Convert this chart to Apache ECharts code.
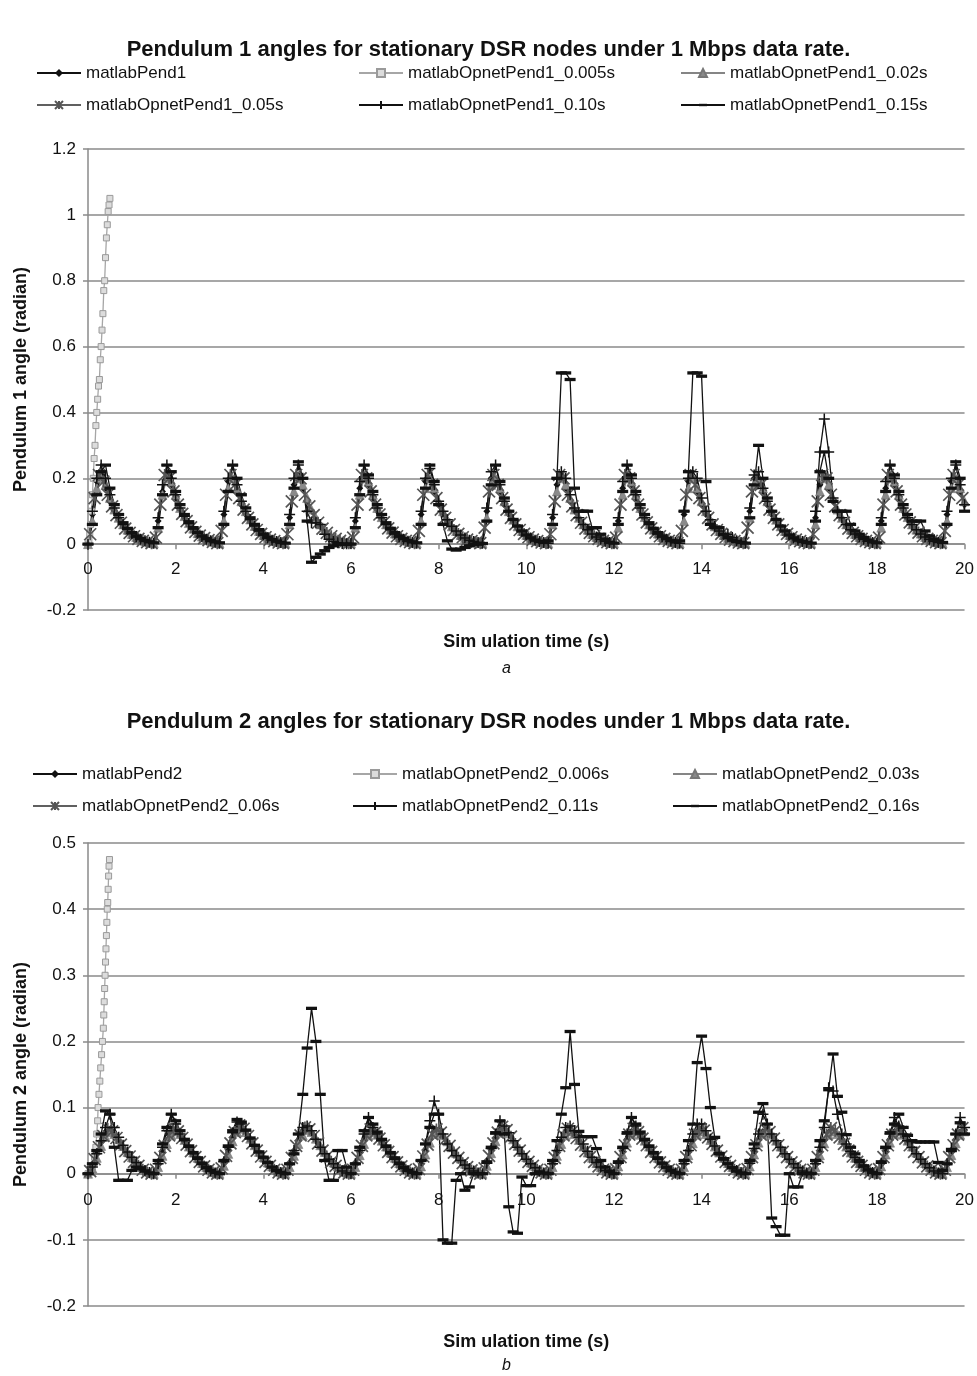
<!DOCTYPE html>
<html>
<head>
<meta charset="utf-8">
<script src="https://cdn.jsdelivr.net/npm/echarts@6/dist/echarts.min.js"></script>
<style>
html,body{margin:0;padding:0;background:#fff;}
#chart{width:977px;height:1376px;}
</style>
</head>
<body>
<div id="chart"></div>
<script>
// ---------- shared tick labels / axes ----------
const X_TICKS = [0, 2, 4, 6, 8, 10, 12, 14, 16, 18, 20];
const Y_TICKS_A = [-0.2, 0, 0.2, 0.4, 0.6, 0.8, 1, 1.2];
const Y_TICKS_B = [-0.2, -0.1, 0, 0.1, 0.2, 0.3, 0.4, 0.5];

const TITLE_A = 'Pendulum 1 angles for stationary DSR nodes under 1 Mbps data rate.';
const TITLE_B = 'Pendulum 2 angles for stationary DSR nodes under 1 Mbps data rate.';
const NAMES_A = ['matlabPend1', 'matlabOpnetPend1_0.005s', 'matlabOpnetPend1_0.02s', 'matlabOpnetPend1_0.05s', 'matlabOpnetPend1_0.10s', 'matlabOpnetPend1_0.15s'];
const NAMES_B = ['matlabPend2', 'matlabOpnetPend2_0.006s', 'matlabOpnetPend2_0.03s', 'matlabOpnetPend2_0.06s', 'matlabOpnetPend2_0.11s', 'matlabOpnetPend2_0.16s'];

// ---------- sample times (s) ----------
const T10 = [
0,0.1,0.2,0.3,0.4,0.5,0.6,0.7,0.8,0.9,
1,1.1,1.2,1.3,1.4,1.5,1.6,1.7,1.8,1.9,
2,2.1,2.2,2.3,2.4,2.5,2.6,2.7,2.8,2.9,
3,3.1,3.2,3.3,3.4,3.5,3.6,3.7,3.8,3.9,
4,4.1,4.2,4.3,4.4,4.5,4.6,4.7,4.8,4.9,
5,5.1,5.2,5.3,5.4,5.5,5.6,5.7,5.8,5.9,
6,6.1,6.2,6.3,6.4,6.5,6.6,6.7,6.8,6.9,
7,7.1,7.2,7.3,7.4,7.5,7.6,7.7,7.8,7.9,
8,8.1,8.2,8.3,8.4,8.5,8.6,8.7,8.8,8.9,
9,9.1,9.2,9.3,9.4,9.5,9.6,9.7,9.8,9.9,
10,10.1,10.2,10.3,10.4,10.5,10.6,10.7,10.8,10.9,
11,11.1,11.2,11.3,11.4,11.5,11.6,11.7,11.8,11.9,
12,12.1,12.2,12.3,12.4,12.5,12.6,12.7,12.8,12.9,
13,13.1,13.2,13.3,13.4,13.5,13.6,13.7,13.8,13.9,
14,14.1,14.2,14.3,14.4,14.5,14.6,14.7,14.8,14.9,
15,15.1,15.2,15.3,15.4,15.5,15.6,15.7,15.8,15.9,
16,16.1,16.2,16.3,16.4,16.5,16.6,16.7,16.8,16.9,
17,17.1,17.2,17.3,17.4,17.5,17.6,17.7,17.8,17.9,
18,18.1,18.2,18.3,18.4,18.5,18.6,18.7,18.8,18.9,
19,19.1,19.2,19.3,19.4,19.5,19.6,19.7,19.8,19.9,
20];
const TH = [
0.05,0.15,0.25,0.35,0.45,0.55,0.65,0.75,0.85,0.95,
1.05,1.15,1.25,1.35,1.45,1.55,1.65,1.75,1.85,1.95,
2.05,2.15,2.25,2.35,2.45,2.55,2.65,2.75,2.85,2.95,
3.05,3.15,3.25,3.35,3.45,3.55,3.65,3.75,3.85,3.95,
4.05,4.15,4.25,4.35,4.45,4.55,4.65,4.75,4.85,4.95,
5.05,5.15,5.25,5.35,5.45,5.55,5.65,5.75,5.85,5.95,
6.05,6.15,6.25,6.35,6.45,6.55,6.65,6.75,6.85,6.95,
7.05,7.15,7.25,7.35,7.45,7.55,7.65,7.75,7.85,7.95,
8.05,8.15,8.25,8.35,8.45,8.55,8.65,8.75,8.85,8.95,
9.05,9.15,9.25,9.35,9.45,9.55,9.65,9.75,9.85,9.95,
10.05,10.15,10.25,10.35,10.45,10.55,10.65,10.75,10.85,10.95,
11.05,11.15,11.25,11.35,11.45,11.55,11.65,11.75,11.85,11.95,
12.05,12.15,12.25,12.35,12.45,12.55,12.65,12.75,12.85,12.95,
13.05,13.15,13.25,13.35,13.45,13.55,13.65,13.75,13.85,13.95,
14.05,14.15,14.25,14.35,14.45,14.55,14.65,14.75,14.85,14.95,
15.05,15.15,15.25,15.35,15.45,15.55,15.65,15.75,15.85,15.95,
16.05,16.15,16.25,16.35,16.45,16.55,16.65,16.75,16.85,16.95,
17.05,17.15,17.25,17.35,17.45,17.55,17.65,17.75,17.85,17.95,
18.05,18.15,18.25,18.35,18.45,18.55,18.65,18.75,18.85,18.95,
19.05,19.15,19.25,19.35,19.45,19.55,19.65,19.75,19.85,19.95];

// ---------- Pendulum 1 (chart a) ----------
const A_PEND1 = [
0,0.09,0.19,0.21,0.17,0.13,0.1,0.075,0.055,0.04,
0.028,0.02,0.013,0.008,0.004,0.002,0.07,0.16,0.21,0.18,
0.14,0.105,0.08,0.06,0.043,0.03,0.021,0.014,0.009,0.005,
0.002,0.09,0.19,0.2,0.16,0.12,0.09,0.07,0.05,0.036,
0.025,0.017,0.011,0.007,0.004,0.002,0.08,0.18,0.21,0.17,
0.13,0.1,0.075,0.055,0.04,0.028,0.02,0.013,0.008,0.004,
0.002,0.07,0.17,0.21,0.18,0.14,0.1,0.076,0.056,0.04,
0.029,0.02,0.013,0.008,0.004,0.002,0.09,0.19,0.2,0.16,
0.12,0.09,0.068,0.05,0.036,0.025,0.017,0.011,0.007,0.004,
0.003,0.1,0.2,0.2,0.16,0.12,0.09,0.068,0.05,0.036,
0.025,0.017,0.011,0.007,0.004,0.002,0.08,0.18,0.21,0.17,
0.13,0.1,0.075,0.055,0.04,0.028,0.02,0.013,0.008,0.004,
0.002,0.07,0.17,0.21,0.18,0.14,0.1,0.076,0.056,0.04,
0.029,0.02,0.013,0.008,0.004,0.002,0.09,0.19,0.2,0.16,
0.12,0.09,0.068,0.05,0.036,0.025,0.017,0.011,0.007,0.004,
0.003,0.1,0.2,0.2,0.16,0.12,0.09,0.068,0.05,0.036,
0.025,0.017,0.011,0.007,0.004,0.002,0.08,0.18,0.21,0.17,
0.13,0.1,0.075,0.055,0.04,0.028,0.02,0.013,0.008,0.004,
0.002,0.07,0.17,0.21,0.18,0.14,0.1,0.076,0.056,0.04,
0.029,0.02,0.013,0.008,0.004,0.002,0.09,0.19,0.2,0.16,
0.12];
const A_T005 = [0,0.02,0.04,0.06,0.08,0.1,0.12,0.14,0.16,0.18,0.2,0.22,0.24,0.26,0.28,0.3,0.32,0.34,0.36,0.38,0.4,0.42,0.44,0.46,0.48,0.5];
const A_P005 = [0,0.01,0.03,0.06,0.1,0.15,0.2,0.26,0.3,0.36,0.4,0.44,0.48,0.5,0.56,0.6,0.65,0.7,0.77,0.8,0.87,0.93,0.97,1.01,1.03,1.05];
const A_P002 = [
0,0.07,0.17,0.2,0.18,0.14,0.105,0.08,0.06,0.044,
0.031,0.022,0.015,0.009,0.005,0.003,0.05,0.15,0.2,0.19,
0.15,0.11,0.085,0.064,0.047,0.033,0.023,0.016,0.01,0.006,
0.003,0.07,0.17,0.2,0.17,0.13,0.1,0.075,0.055,0.04,
0.028,0.019,0.012,0.008,0.005,0.003,0.06,0.16,0.2,0.18,
0.14,0.105,0.08,0.06,0.044,0.031,0.022,0.015,0.009,0.005,
0.003,0.05,0.15,0.2,0.19,0.15,0.11,0.082,0.06,0.044,
0.032,0.022,0.015,0.009,0.005,0.003,0.07,0.17,0.2,0.17,
0.13,0.1,0.074,0.054,0.04,0.028,0.019,0.012,0.008,0.005,
0.003,0.08,0.18,0.2,0.17,0.13,0.1,0.074,0.054,0.04,
0.028,0.019,0.012,0.008,0.005,0.003,0.06,0.16,0.2,0.18,
0.14,0.105,0.08,0.06,0.044,0.031,0.022,0.015,0.009,0.005,
0.003,0.05,0.15,0.2,0.19,0.15,0.11,0.082,0.06,0.044,
0.032,0.022,0.015,0.009,0.005,0.003,0.07,0.17,0.2,0.17,
0.13,0.1,0.074,0.054,0.04,0.028,0.019,0.012,0.008,0.005,
0.003,0.08,0.18,0.2,0.17,0.13,0.1,0.074,0.054,0.04,
0.028,0.019,0.012,0.008,0.005,0.003,0.06,0.16,0.2,0.18,
0.14,0.105,0.08,0.06,0.044,0.031,0.022,0.015,0.009,0.005,
0.003,0.05,0.15,0.2,0.19,0.15,0.11,0.082,0.06,0.044,
0.032,0.022,0.015,0.009,0.005,0.003,0.07,0.17,0.2,0.17,
0.13];
const A_P005S = [
0.03,0.14,0.21,0.19,0.15,0.115,0.088,0.065,0.047,0.034,
0.024,0.016,0.01,0.006,0.003,0.02,0.12,0.21,0.2,0.16,
0.12,0.092,0.07,0.051,0.037,0.026,0.018,0.012,0.007,0.003,
0.04,0.15,0.21,0.18,0.14,0.105,0.08,0.06,0.043,0.031,
0.021,0.014,0.009,0.005,0.003,0.03,0.13,0.21,0.2,0.15,
0.115,0.088,0.065,0.047,0.034,0.024,0.016,0.01,0.006,0.003,
0.02,0.12,0.21,0.2,0.16,0.12,0.09,0.066,0.048,0.035,
0.024,0.016,0.01,0.006,0.003,0.04,0.15,0.21,0.18,0.14,
0.105,0.08,0.06,0.043,0.031,0.021,0.014,0.009,0.005,0.003,
0.05,0.16,0.21,0.18,0.14,0.105,0.08,0.06,0.043,0.031,
0.021,0.014,0.009,0.005,0.003,0.03,0.13,0.21,0.2,0.15,
0.115,0.088,0.065,0.047,0.034,0.024,0.016,0.01,0.006,0.003,
0.02,0.12,0.21,0.2,0.16,0.12,0.09,0.066,0.048,0.035,
0.024,0.016,0.01,0.006,0.003,0.04,0.15,0.21,0.18,0.14,
0.105,0.08,0.06,0.043,0.031,0.021,0.014,0.009,0.005,0.003,
0.05,0.16,0.21,0.18,0.14,0.105,0.08,0.06,0.043,0.031,
0.021,0.014,0.009,0.005,0.003,0.03,0.13,0.21,0.2,0.15,
0.115,0.088,0.065,0.047,0.034,0.024,0.016,0.01,0.006,0.003,
0.02,0.12,0.21,0.2,0.16,0.12,0.09,0.066,0.048,0.035,
0.024,0.016,0.01,0.006,0.003,0.04,0.15,0.21,0.18,0.14];
const A_P010 = [
0,0.1,0.2,0.24,0.2,0.15,0.11,0.08,0.06,0.045,
0.032,0.022,0.015,0.01,0.006,0.003,0.08,0.18,0.24,0.2,
0.15,0.11,0.085,0.063,0.046,0.033,0.023,0.015,0.01,0.006,
0.003,0.1,0.2,0.24,0.18,0.13,0.1,0.075,0.055,0.04,
0.028,0.019,0.012,0.008,0.005,0.003,0.09,0.2,0.24,0.2,
0.1,0.065,0.065,0.06,0.03,0.015,0.008,0.004,0.002,0.001,
0.002,0.08,0.19,0.24,0.2,0.15,0.11,0.08,0.06,0.044,
0.031,0.022,0.015,0.009,0.005,0.003,0.1,0.2,0.23,0.18,
0.13,0.1,0.074,0.054,0.04,0.028,0.019,0.012,0.008,0.005,
0.003,0.11,0.22,0.24,0.18,0.13,0.1,0.074,0.054,0.04,
0.028,0.019,0.012,0.008,0.005,0.003,0.09,0.2,0.22,0.2,
0.15,0.11,0.08,0.06,0.044,0.031,0.022,0.015,0.009,0.005,
0.003,0.08,0.19,0.24,0.2,0.15,0.11,0.08,0.06,0.044,
0.031,0.022,0.015,0.009,0.005,0.003,0.1,0.2,0.22,0.2,
0.14,0.1,0.074,0.054,0.04,0.03,0.03,0.02,0.01,0.005,
0.003,0.11,0.21,0.22,0.17,0.13,0.1,0.074,0.054,0.04,
0.028,0.019,0.012,0.008,0.005,0.003,0.1,0.28,0.38,0.28,
0.14,0.1,0.08,0.06,0.044,0.031,0.022,0.015,0.009,0.005,
0.003,0.08,0.19,0.24,0.2,0.15,0.11,0.08,0.06,0.044,
0.031,0.022,0.015,0.009,0.005,0.003,0.1,0.2,0.24,0.18,
0.12];
const A_P015 = [
0,0.06,0.15,0.22,0.24,0.17,0.12,0.09,0.065,0.048,
0.035,0.025,0.017,0.011,0.007,0.004,0.05,0.15,0.24,0.22,
0.16,0.12,0.09,0.068,0.05,0.036,0.025,0.017,0.011,0.007,
0.004,0.06,0.16,0.24,0.2,0.15,0.11,0.08,0.06,0.044,
0.031,0.021,0.014,0.009,0.005,0.003,0.06,0.17,0.25,0.2,
0.07,-0.055,-0.04,-0.03,-0.02,-0.01,-0.005,0,0,0,
0,0.05,0.15,0.24,0.21,0.16,0.12,0.09,0.065,0.048,
0.035,0.025,0.017,0.011,0.007,0.004,0.06,0.17,0.24,0.19,
0.12,0.06,0.01,-0.015,-0.018,-0.015,-0.01,-0.005,0,0,
0.002,0.07,0.18,0.24,0.19,0.14,0.1,0.075,0.055,0.04,
0.028,0.019,0.012,0.008,0.005,0.01,0.06,0.2,0.52,0.52,
0.5,0.17,0.1,0.1,0.1,0.05,0.05,0.03,0.015,0.005,
0.003,0.06,0.16,0.24,0.21,0.16,0.12,0.09,0.065,0.048,
0.035,0.025,0.017,0.011,0.007,0.01,0.1,0.22,0.52,0.52,
0.51,0.19,0.06,0.05,0.05,0.03,0.02,0.012,0.008,0.005,
0.003,0.08,0.18,0.3,0.2,0.14,0.1,0.075,0.055,0.04,
0.028,0.019,0.012,0.008,0.005,0.003,0.07,0.22,0.28,0.2,
0.13,0.1,0.1,0.1,0.06,0.04,0.03,0.02,0.012,0.007,
0.004,0.06,0.16,0.24,0.21,0.16,0.12,0.09,0.07,0.07,
0.07,0.04,0.025,0.015,0.01,0.005,0.06,0.17,0.25,0.2,
0.1];

// ---------- Pendulum 2 (chart b) ----------
const B_PEND2 = [
0,0.012,0.03,0.048,0.062,0.066,0.059,0.049,0.039,0.03,
0.022,0.015,0.009,0.004,0.001,0,0.014,0.032,0.05,0.063,
0.066,0.058,0.048,0.038,0.029,0.021,0.014,0.008,0.004,0.001,
0,0.016,0.036,0.055,0.068,0.07,0.062,0.051,0.04,0.03,
0.022,0.015,0.009,0.004,0.001,0,0.014,0.032,0.05,0.063,
0.068,0.062,0.05,0.04,0.03,0.022,0.015,0.009,0.004,0.001,
0,0.014,0.033,0.05,0.062,0.065,0.058,0.048,0.038,0.029,
0.021,0.014,0.008,0.004,0.001,0,0.015,0.034,0.052,0.064,
0.065,0.057,0.047,0.037,0.028,0.02,0.013,0.008,0.004,0.001,
0,0.016,0.036,0.054,0.066,0.068,0.06,0.05,0.04,0.03,
0.022,0.015,0.009,0.004,0.001,0,0.014,0.032,0.05,0.063,
0.066,0.059,0.049,0.039,0.03,0.022,0.015,0.009,0.004,0.001,
0,0.015,0.034,0.052,0.064,0.066,0.058,0.048,0.038,0.029,
0.021,0.014,0.008,0.004,0.001,0,0.014,0.033,0.051,0.063,
0.066,0.059,0.049,0.039,0.03,0.022,0.015,0.009,0.004,0.001,
0,0.015,0.034,0.052,0.064,0.066,0.058,0.048,0.038,0.029,
0.021,0.014,0.008,0.004,0.001,0,0.014,0.033,0.051,0.063,
0.066,0.059,0.049,0.039,0.03,0.022,0.015,0.009,0.004,0.001,
0,0.015,0.034,0.052,0.064,0.066,0.058,0.048,0.038,0.029,
0.021,0.014,0.008,0.004,0.001,0,0.014,0.033,0.051,0.063,
0.066];
const B_T006 = [0,0.05,0.1,0.15,0.18,0.2,0.22,0.23,0.25,0.27,0.29,0.31,0.33,0.35,0.36,0.37,0.38,0.39,0.4,0.41,0.42,0.43,0.44,0.45,0.46,0.47,0.48,0.49];
const B_P006 = [0,0.003,0.01,0.025,0.04,0.06,0.08,0.1,0.12,0.14,0.16,0.18,0.2,0.22,0.24,0.26,0.28,0.3,0.32,0.34,0.36,0.38,0.4,0.41,0.43,0.45,0.465,0.475];
const B_P003 = [
0,0.008,0.024,0.042,0.056,0.063,0.06,0.052,0.042,0.033,
0.025,0.017,0.011,0.006,0.002,0,0.01,0.027,0.045,0.058,
0.064,0.06,0.051,0.041,0.032,0.024,0.016,0.01,0.005,0.002,
0,0.012,0.03,0.049,0.063,0.068,0.063,0.053,0.043,0.033,
0.025,0.017,0.011,0.006,0.002,0,0.01,0.027,0.045,0.058,
0.066,0.063,0.053,0.043,0.033,0.025,0.017,0.011,0.006,0.002,
0,0.01,0.028,0.045,0.058,0.063,0.059,0.05,0.041,0.032,
0.024,0.016,0.01,0.005,0.002,0,0.011,0.029,0.047,0.06,
0.063,0.058,0.049,0.04,0.031,0.023,0.015,0.009,0.005,0.002,
0,0.012,0.031,0.049,0.062,0.066,0.061,0.052,0.042,0.033,
0.025,0.017,0.011,0.006,0.002,0,0.01,0.027,0.045,0.058,
0.064,0.06,0.051,0.041,0.032,0.024,0.016,0.01,0.005,0.002,
0,0.011,0.029,0.047,0.06,0.064,0.059,0.05,0.041,0.032,
0.024,0.016,0.01,0.005,0.002,0,0.01,0.028,0.046,0.059,
0.064,0.06,0.051,0.041,0.032,0.024,0.016,0.01,0.005,0.002,
0,0.011,0.029,0.047,0.06,0.064,0.059,0.05,0.041,0.032,
0.024,0.016,0.01,0.005,0.002,0,0.01,0.028,0.046,0.059,
0.064,0.06,0.051,0.041,0.032,0.024,0.016,0.01,0.005,0.002,
0,0.011,0.029,0.047,0.06,0.064,0.059,0.05,0.041,0.032,
0.024,0.016,0.01,0.005,0.002,0,0.01,0.028,0.046,0.059,
0.064];
const B_P006S = [
0.004,0.022,0.04,0.057,0.068,0.064,0.054,0.044,0.034,0.026,
0.018,0.012,0.006,0.002,0,0.006,0.024,0.042,0.058,0.068,
0.064,0.054,0.044,0.034,0.025,0.018,0.011,0.006,0.002,0,
0.008,0.027,0.046,0.063,0.073,0.068,0.057,0.046,0.035,0.026,
0.018,0.012,0.006,0.002,0,0.006,0.024,0.042,0.058,0.07,
0.067,0.057,0.046,0.035,0.026,0.018,0.012,0.006,0.002,0,
0.006,0.024,0.042,0.058,0.067,0.062,0.053,0.043,0.033,0.025,
0.017,0.011,0.006,0.002,0,0.007,0.026,0.044,0.06,0.067,
0.062,0.052,0.042,0.032,0.024,0.016,0.01,0.005,0.002,0,
0.008,0.027,0.046,0.062,0.071,0.066,0.056,0.045,0.035,0.026,
0.018,0.012,0.006,0.002,0,0.006,0.024,0.042,0.058,0.068,
0.064,0.054,0.044,0.034,0.025,0.018,0.011,0.006,0.002,0,
0.007,0.025,0.043,0.059,0.068,0.063,0.053,0.043,0.033,0.025,
0.017,0.011,0.006,0.002,0,0.006,0.025,0.043,0.059,0.069,
0.065,0.055,0.045,0.035,0.026,0.018,0.012,0.006,0.002,0,
0.007,0.025,0.043,0.059,0.068,0.063,0.053,0.043,0.033,0.025,
0.017,0.011,0.006,0.002,0,0.006,0.025,0.043,0.059,0.069,
0.065,0.055,0.045,0.035,0.026,0.018,0.012,0.006,0.002,0,
0.007,0.025,0.043,0.059,0.068,0.063,0.053,0.043,0.033,0.025,
0.017,0.011,0.006,0.002,0,0.006,0.025,0.043,0.059,0.069];
const B_P011 = [
0,0.01,0.03,0.05,0.07,0.09,0.07,0.055,0.043,0.033,
0.025,0.017,0.01,0.005,0.002,0,0.015,0.04,0.065,0.09,
0.075,0.06,0.05,0.04,0.03,0.022,0.014,0.008,0.004,0.001,
0,0.018,0.04,0.062,0.078,0.075,0.065,0.053,0.042,0.032,
0.024,0.016,0.01,0.005,0.002,0,0.015,0.035,0.06,0.07,
0.072,0.065,0.052,0.04,0.03,0.022,0.015,0.009,0.004,0.001,
0,0.015,0.035,0.06,0.085,0.07,0.06,0.05,0.04,0.03,
0.022,0.014,0.008,0.004,0.001,0,0.02,0.045,0.08,0.11,
0.09,0.06,0.045,0.035,0.027,0.02,0.013,0.008,0.004,0.001,
0,0.016,0.038,0.06,0.08,0.072,0.062,0.05,0.04,0.03,
0.022,0.015,0.009,0.004,0.001,0,0.015,0.035,0.055,0.07,
0.072,0.065,0.055,0.045,0.034,0.025,0.017,0.01,0.005,0.002,
0,0.016,0.038,0.06,0.085,0.072,0.06,0.05,0.04,0.03,
0.022,0.015,0.009,0.004,0.001,0,0.015,0.035,0.06,0.075,
0.075,0.065,0.052,0.042,0.032,0.024,0.016,0.01,0.005,0.002,
0,0.016,0.038,0.06,0.09,0.075,0.06,0.05,0.04,0.03,
0.022,0.015,0.009,0.004,0.001,0,0.015,0.04,0.07,0.13,
0.125,0.09,0.06,0.045,0.034,0.025,0.017,0.01,0.005,0.002,
0,0.016,0.038,0.06,0.085,0.072,0.06,0.05,0.04,0.03,
0.022,0.015,0.009,0.004,0.001,0,0.015,0.038,0.06,0.085,
0.07];
const B_P016 = [
0,0.015,0.035,0.06,0.095,0.09,0.04,-0.01,-0.01,-0.01,
0.005,0.01,0.008,0.004,0.001,0,0.02,0.045,0.07,0.09,
0.08,0.065,0.052,0.042,0.032,0.024,0.016,0.01,0.005,0.002,
0,0.02,0.042,0.065,0.082,0.078,0.066,0.054,0.043,0.033,
0.025,0.017,0.01,0.005,0.002,0,0.015,0.03,0.06,0.12,
0.19,0.25,0.2,0.12,0.02,-0.01,-0.01,0.035,0.035,0.01,
0,0.015,0.04,0.065,0.085,0.075,0.063,0.052,0.042,0.032,
0.024,0.016,0.01,0.005,0.002,0,0.02,0.045,0.07,0.09,
0.09,-0.1,-0.105,-0.105,-0.01,0,-0.025,-0.02,0,0,
0,0.018,0.04,0.062,0.08,0.06,-0.05,-0.088,-0.09,-0.005,
-0.018,-0.018,0,0.002,0.001,0,0.02,0.05,0.09,0.13,
0.215,0.135,0.064,0.056,0.056,0.056,0.038,0.02,0.01,0.004,
0,0.018,0.04,0.062,0.085,0.075,0.063,0.052,0.042,0.032,
0.024,0.016,0.01,0.005,0.002,0,0.02,0.05,0.075,0.168,
0.208,0.159,0.1,0.055,0.03,0.022,0.015,0.009,0.004,0.001,
0,0.02,0.045,0.093,0.106,0.075,-0.067,-0.08,-0.093,-0.093,
0,-0.02,-0.02,0,0.001,0,0.02,0.05,0.08,0.127,
0.181,0.117,0.093,0.059,0.04,0.03,0.02,0.012,0.006,0.002,
0,0.018,0.04,0.062,0.075,0.09,0.07,0.058,0.05,0.048,
0.048,0.048,0.048,0.048,0.017,0.005,0.015,0.035,0.06,0.077,
0.06];

// ---------- build ----------
const FONT = "'Liberation Sans', Arial, Helvetica, sans-serif";
function zip(T, V) { return V.map((v, i) => [T[i], v]); }

const SYM_AST = 'path://M0,0L10,10M10,0L0,10M5,0L5,10';
const SYM_PLUS = 'path://M5,0L5,10M0,5L10,5';
const SYM_DASH = 'path://M0,0L0,0M0,3.5L10,3.5L10,6.5L0,6.5ZM10,10L10,10';

const STYLES = [
  {color: '#111111', symbol: 'diamond', size: 7, border: '#111111', bw: 0},
  {color: '#dcdcdc', symbol: 'rect', size: 6, border: '#9a9a9a', bw: 1, line: '#a6a6a6'},
  {color: '#8a8a8a', symbol: 'triangle', size: 9, border: '#777777', bw: 0.6, line: '#858585'},
  {color: '#555555', symbol: SYM_AST, size: 12, border: '#555555', bw: 1.7, line: '#606060'},
  {color: '#111111', symbol: SYM_PLUS, size: 11, border: '#111111', bw: 1.5},
  {color: '#111111', symbol: SYM_DASH, size: 11, border: '#111111', bw: 0}
];

function mkSeries(name, idx, T, V, s) {
  return {
    name: name, type: 'line', xAxisIndex: idx, yAxisIndex: idx,
    data: zip(T, V),
    symbol: s.symbol, symbolSize: s.size, showSymbol: true, showAllSymbol: true,
    lineStyle: {color: s.line || s.color, width: 1.3},
    itemStyle: {color: s.color, borderColor: s.border, borderWidth: s.bw},
    emphasis: {disabled: true},
    animation: false, clip: true
  };
}

const seriesA = [
  mkSeries(NAMES_A[0], 0, T10, A_PEND1, STYLES[0]),
  mkSeries(NAMES_A[1], 0, A_T005, A_P005, STYLES[1]),
  mkSeries(NAMES_A[2], 0, T10, A_P002, STYLES[2]),
  mkSeries(NAMES_A[3], 0, TH, A_P005S, STYLES[3]),
  mkSeries(NAMES_A[4], 0, T10, A_P010, STYLES[4]),
  mkSeries(NAMES_A[5], 0, T10, A_P015, STYLES[5])
];
const seriesB = [
  mkSeries(NAMES_B[0], 1, T10, B_PEND2, STYLES[0]),
  mkSeries(NAMES_B[1], 1, B_T006, B_P006, STYLES[1]),
  mkSeries(NAMES_B[2], 1, T10, B_P003, STYLES[2]),
  mkSeries(NAMES_B[3], 1, TH, B_P006S, STYLES[3]),
  mkSeries(NAMES_B[4], 1, T10, B_P011, STYLES[4]),
  mkSeries(NAMES_B[5], 1, T10, B_P016, STYLES[5])
];

function legendCell(name, left, cy) {
  return {
    data: [name], left: left, top: cy - 9, padding: 0,
    itemWidth: 44, itemHeight: 10, itemGap: 0, selectedMode: false,
    textStyle: {fontFamily: FONT, fontSize: 17, color: '#111', lineHeight: 18}
  };
}
const COLS_A = [36, 358, 680], ROWS_A = [73, 105];
const COLS_B = [32, 352, 672], ROWS_B = [774, 806];
const legends = [
  legendCell(NAMES_A[0], COLS_A[0], ROWS_A[0]), legendCell(NAMES_A[1], COLS_A[1], ROWS_A[0]), legendCell(NAMES_A[2], COLS_A[2], ROWS_A[0]),
  legendCell(NAMES_A[3], COLS_A[0], ROWS_A[1]), legendCell(NAMES_A[4], COLS_A[1], ROWS_A[1]), legendCell(NAMES_A[5], COLS_A[2], ROWS_A[1]),
  legendCell(NAMES_B[0], COLS_B[0], ROWS_B[0]), legendCell(NAMES_B[1], COLS_B[1], ROWS_B[0]), legendCell(NAMES_B[2], COLS_B[2], ROWS_B[0]),
  legendCell(NAMES_B[3], COLS_B[0], ROWS_B[1]), legendCell(NAMES_B[4], COLS_B[1], ROWS_B[1]), legendCell(NAMES_B[5], COLS_B[2], ROWS_B[1])
];

const GRAY = '#8a8a8a';
// labelMargin: x tick labels sit just under the zero line (measured from the grid bottom)
function xAxisDef(idx, gap, labelMargin) {
  return {
    type: 'value', gridIndex: idx, min: X_TICKS[0], max: X_TICKS[X_TICKS.length - 1], interval: 2,
    name: 'Sim ulation time (s)', nameLocation: 'middle', nameGap: gap,
    nameTextStyle: {fontFamily: FONT, fontSize: 18, fontWeight: 'bold', color: '#111'},
    axisLine: {onZero: true, lineStyle: {color: GRAY, width: 1.5}},
    axisTick: {show: true, length: 5, lineStyle: {color: GRAY, width: 1.5}},
    axisLabel: {fontFamily: FONT, fontSize: 17, color: '#111', margin: labelMargin},
    splitLine: {show: false}
  };
}
function yAxisDef(idx, ticks, step, name) {
  return {
    type: 'value', gridIndex: idx, min: ticks[0], max: ticks[ticks.length - 1], interval: step,
    name: name, nameLocation: 'middle', nameGap: 58,
    nameTextStyle: {fontFamily: FONT, fontSize: 18, fontWeight: 'bold', color: '#111'},
    axisLine: {show: true, onZero: false, lineStyle: {color: GRAY, width: 1.5}},
    axisTick: {show: true, length: 5, lineStyle: {color: GRAY, width: 1.5}},
    axisLabel: {fontFamily: FONT, fontSize: 17, color: '#111', margin: 12,
      formatter: v => String(Math.round(v * 10) / 10)},
    splitLine: {show: true, lineStyle: {color: GRAY, width: 1.5}}
  };
}

const option = {
  backgroundColor: '#ffffff',
  animation: false,
  title: [
    {text: TITLE_A, left: 'center', top: 34, textStyle: {fontFamily: FONT, fontSize: 22, fontWeight: 'bold', color: '#111'}},
    {text: TITLE_B, left: 'center', top: 706, textStyle: {fontFamily: FONT, fontSize: 22, fontWeight: 'bold', color: '#111'}}
  ],
  legend: legends,
  grid: [
    {left: 88, right: 10, top: 149, height: 461},
    {left: 88, right: 10, top: 843, height: 463}
  ],
  xAxis: [xAxisDef(0, 23, -49), xAxisDef(1, 27, -114)],
  yAxis: [
    yAxisDef(0, Y_TICKS_A, 0.2, 'Pendulum 1 angle (radian)'),
    yAxisDef(1, Y_TICKS_B, 0.1, 'Pendulum 2 angle (radian)')
  ],
  graphic: [
    {type: 'text', left: 502, top: 661, style: {text: 'a', font: 'italic 16px ' + FONT, fill: '#111'}},
    {type: 'text', left: 502, top: 1358, style: {text: 'b', font: 'italic 16px ' + FONT, fill: '#111'}}
  ],
  series: seriesA.concat(seriesB)
};

const chart = echarts.init(document.getElementById('chart'), null, {renderer: 'canvas'});
chart.setOption(option);
</script>
</body>
</html>
